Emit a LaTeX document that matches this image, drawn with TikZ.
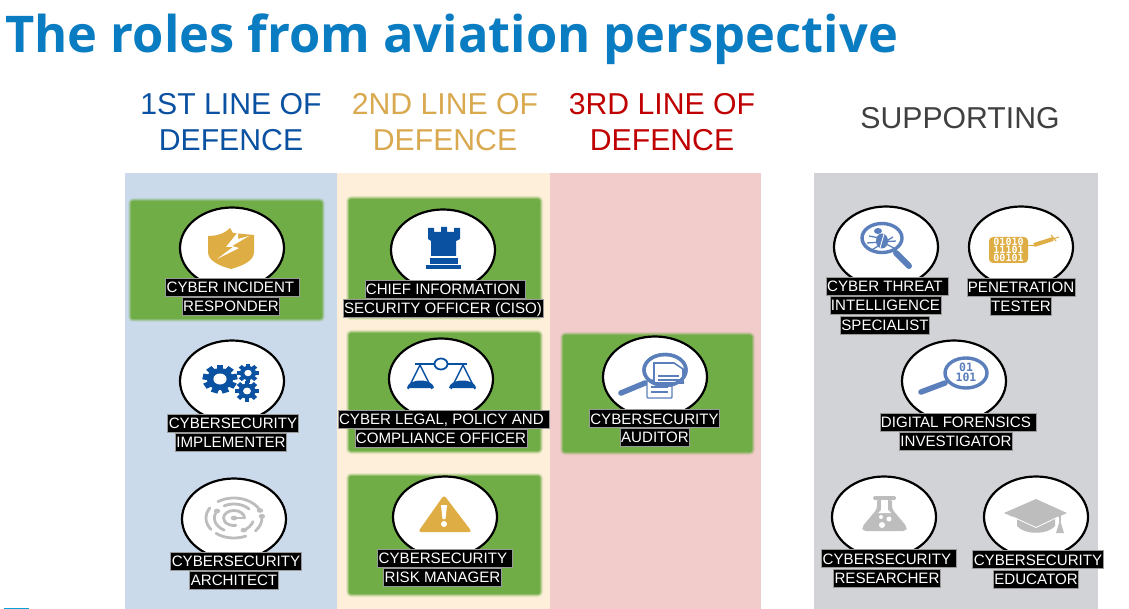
\documentclass[tikz,border=0pt]{standalone}
\usepackage{fontspec}
\setmainfont{Liberation Sans}
\newfontfamily\titlefont{Open Sans}
\newfontfamily\bitfont{DejaVu Sans Mono}
\usetikzlibrary{shapes.geometric}
\definecolor{titleblue}{HTML}{0A7CC1}
\definecolor{navy}{HTML}{0B51A2}
\definecolor{goldc}{HTML}{DEAD43}
\definecolor{headgold}{HTML}{D9A94F}
\definecolor{redc}{HTML}{C00000}
\definecolor{darkc}{HTML}{404040}
\definecolor{steel}{HTML}{5B7FBB}
\definecolor{grayicon}{HTML}{BDBDBD}
\definecolor{greenc}{HTML}{70AD47}
\definecolor{p1}{HTML}{CADAEB}
\definecolor{p2}{HTML}{FDEFD9}
\definecolor{p3}{HTML}{F2CBCB}
\definecolor{p4}{HTML}{D2D3D7}
\tikzset{
 roleoval/.style={ellipse,draw=black,line width=2.2pt,fill=white,minimum width=104pt,minimum height=81pt,inner sep=0pt},
 lbl/.style={fill=black,draw=black!40,line width=.7pt,text=white,inner xsep=1pt,inner ysep=3.6pt,text height=11pt,text depth=0pt,font=\fontsize{15.1}{15}\selectfont},
 head/.style={font=\fontsize{30.2}{30}\selectfont,inner sep=0pt},
 mag/.style={draw=steel,line width=3.4pt,fill=white},
 handle/.style={draw=steel,line width=5.5pt,line cap=round},
 bit/.style={font=\bitfont\bfseries\fontsize{10}{10}\selectfont,inner sep=0pt,text=white},
 digit/.style={font=\bitfont\bfseries\fontsize{11.5}{11}\selectfont,inner sep=0pt,text=steel}
}
\newcommand\greenbox[4]{%
 \fill[greenc,opacity=.15,rounded corners=5pt] (#1-3,#2-3) rectangle (#3+3,#4+3);
 \fill[greenc,opacity=.3,rounded corners=4pt] (#1-2,#2-2) rectangle (#3+2,#4+2);
 \fill[greenc,opacity=.5,rounded corners=3pt] (#1-1,#2-1) rectangle (#3+1,#4+1);
 \fill[greenc,rounded corners=2pt] (#1,#2) rectangle (#3,#4);}
\newcommand\tr{\kern4.2pt}
\newcommand\gearicon[7]{% x y outer inner hole teeth xscale
 \begin{scope}[shift={(#1,#2)},xscale=#7]
 \foreach \a in {1,...,#6}{\fill[navy,rotate=\a*360/#6] (-#3*.2,0) rectangle (#3*.2,-#3);}
 \fill[navy] (0,0) circle (#4);
 \fill[white] (0,0) circle (#5);
 \end{scope}}
\begin{document}
\begin{tikzpicture}[x=1pt,y=-1pt]
\useasboundingbox (0,0) rectangle (1129,609);
\fill[white] (0,0) rectangle (1129,609);
\node[inner sep=0pt,anchor=west,text=titleblue,font=\titlefont\bfseries\fontsize{50.6}{50}\selectfont] (title) at (5,39) {The roles from aviation perspective};
\fill[titleblue!70!cyan] (4,607.5) rectangle (29,609);
% panels
\fill[p1] (125,173) rectangle (337,609);
\fill[p2] (337,173) rectangle (550,609);
\fill[p3] (550,173) rectangle (761,609);
\fill[p4] (814,173) rectangle (1098,609);
% headings
\node[head,text=navy] (h1a) at (231,104) {1ST LINE OF};
\node[head,text=navy] (h1b) at (231,140) {DEFENCE};
\node[head,text=headgold] (h2a) at (445,104) {2ND LINE OF};
\node[head,text=headgold] (h2b) at (445,140) {DEFENCE};
\node[head,text=redc] (h3a) at (662,104) {3RD LINE OF};
\node[head,text=redc] (h3b) at (662,140) {DEFENCE};
\node[head,text=darkc] (h4) at (960,118) {SUPPORTING};
% green
\greenbox{131}{201}{322}{319}
\greenbox{349}{199}{540}{317}
\greenbox{349}{333}{540}{451}
\greenbox{349}{476}{540}{594}
\greenbox{563}{335}{752}{452}
% ovals
\node[roleoval] (o1) at (232,248) {};
\node[roleoval] (o2) at (232,381) {};
\node[roleoval] (o3) at (234,519) {};
\node[roleoval] (o4) at (443,250) {};
\node[roleoval] (o5) at (441,379) {};
\node[roleoval] (o6) at (445,517) {};
\node[roleoval] (o7) at (655,377) {};
\node[roleoval] (o8) at (886,247) {};
\node[roleoval] (o9) at (1021,247) {};
\node[roleoval] (o10) at (954,381) {};
\node[roleoval] (o11) at (884,517) {};
\node[roleoval] (o12) at (1036,517) {};
% shield
\fill[goldc] (208,236) .. controls (216,236) and (224,234) .. (230,228) -- (233,233) -- (254,235) -- (254,252) .. controls (254,261) and (242,266) .. (231,269) .. controls (220,266) and (208,261) .. (208,252) -- cycle;
\fill[white] (238,232) -- (226,247) -- (233,247) -- (217,259) -- (239,248) -- (232,246) -- (249,236) -- (238,239) -- cycle;
% gears
\gearicon{220}{379}{14.5}{11}{5.5}{9}{1.2}
\gearicon{248}{373}{9.5}{7}{3.2}{8}{1.15}
\gearicon{247}{391}{10.5}{7.5}{3.4}{8}{1.15}
% architect
\begin{scope}[shift={(234,518)},xscale=1.4,grayicon,line width=2.8pt,line cap=round]
\draw (-125:20) arc (-125:-22:20);
\draw (-150:20) arc (-150:-215:20);
\draw (130:20) arc (130:65:20);
\draw (40:20) arc (40:-5:20);
\draw (-40:14) arc (-40:-120:14);
\draw (-150:14) arc (-150:-240:14);
\draw (60:14) arc (60:15:14);
\draw (0:7.5) arc (0:-280:7.5);
\draw (0,0) -- (7.5,0);
\fill (0,0) circle (2.4) (-22:20) circle (2.3) (-5:20) circle (2.3) (60:14) circle (2.3) (-150:14) circle (2.3);
\end{scope}
% rook
\fill[navy] (428,228) -- (434,228) -- (434,232) -- (441,232) -- (441,227) -- (447,227) -- (447,232) -- (454,232) -- (454,228) -- (460,228) -- (460,239) -- (456,241) -- (456,256) -- (431,256) -- (431,241) -- (428,239) -- cycle;
\fill[navy] (430,258) rectangle (458,264);
\fill[navy] (426,265) rectangle (461,269);
% scales
\begin{scope}[navy]
\draw[line width=1.8pt] (415,364) -- (467,364);
\draw[line width=1.5pt] (420,365) -- (408,389) (420,365) -- (432,389) (463,365) -- (451,389) (463,365) -- (475,389);
\fill (407,388) arc (180:360:13.5 and 7.5) -- cycle;
\fill (449,388) arc (180:360:13.5 and 7.5) -- cycle;
\draw[line width=1.8pt,fill=white] (441,364) ellipse (6.5 and 5.5);
\end{scope}
% warning
\fill[goldc,rounded corners=3pt] (444,495) -- (472,532) -- (418,532) -- cycle;
\fill[white] (441,505) -- (447,505) -- (445.5,519) -- (442.5,519) -- cycle;
\fill[white] (444,524) circle (3);
% auditor
\draw[handle] (621,393) -- (645,383);
\draw[draw=steel,line width=1.4pt,fill=white,rounded corners=1pt] (647,380) rectangle (672,398);
\draw[steel,line width=1.2pt] (651,387) -- (668,387) (651,392) -- (668,392);
\draw[draw=steel,line width=3.4pt] (665,370) ellipse (21 and 15.5);
\draw[draw=steel,line width=1.6pt,fill=white] (654,363) -- (674,363) -- (683,369) -- (683,383) -- (654,383) -- cycle;
\draw[steel,line width=1.2pt] (658,376) -- (679,376) (658,380) -- (679,380);
\draw[draw=steel,line width=3.4pt] (665,370) ellipse (21 and 15.5);
% threat
\draw[handle,line width=6pt] (896,253) -- (909,266);
\draw[mag] (882,238) ellipse (20 and 14.5);
\begin{scope}[steel]
\fill (882,241) ellipse (6 and 7.5);
\fill (878,231) ellipse (4 and 3);
\draw[line width=1.3pt] (869,236) -- (885,239) (867,243) -- (896,241) (870,251) -- (893,237) (894,248) -- (886,244);
\draw[white,line width=.9pt] (884,234) -- (880,248);
\end{scope}
% penetration
\fill[goldc,rounded corners=4pt] (989,237) rectangle (1028,263);
\node[bit] (b1) at (1008.5,242) {01010};
\node[bit] (b2) at (1008.5,250) {11101};
\node[bit] (b3) at (1008.5,258) {00101};
\draw[goldc,line width=1pt] (1028,246) -- (1034,246);
\draw[goldc,line width=4pt] (1034,245) -- (1053,239);
\draw[goldc,line width=1pt] (1051,235) -- (1056,241) (1053,239) -- (1059,237);
% digital
\draw[handle] (921,392) -- (945,383);
\draw[mag] (966,373) ellipse (21 and 15);
\node[digit] (d1) at (966,367) {01};
\node[digit] (d2) at (966,377.5) {101};
% flask
\fill[grayicon,rounded corners=1.5pt] (873,496) rectangle (896,500);
\fill[grayicon,rounded corners=3pt] (877,499) -- (892,499) -- (892,509) -- (907,527) -- (906,531) -- (863,531) -- (862,527) -- (877,509) -- cycle;
\fill[white] (881,500) rectangle (888,511);
\fill[white] (881,510) -- (888,510) -- (891,513) -- (878,513) -- cycle;
\fill[white] (881,517) circle (2) (889,519) circle (2.5) (882,525) circle (3);
% cap
\fill[grayicon] (1017,518) -- (1055,518) -- (1055,526) .. controls (1048,535) and (1024,535) .. (1017,526) -- cycle;
\fill[grayicon] (1004,513) -- (1036,499) -- (1067,513) -- (1036,527) -- cycle;
\draw[white,line width=.8pt] (1013,517) -- (1036,527.5) -- (1058,517);
\draw[grayicon,line width=1.2pt] (1060,514) -- (1060,522);
\fill[grayicon] (1060,520) -- (1064,533) -- (1056,533) -- cycle;
% labels
\node[lbl] (l1a) at (232.5,287) {CYBER INCIDENT\tr};
\node[lbl] (l1b) at (231,306) {RESPONDER};
\node[lbl] (l2a) at (233,423) {CYBERSECURITY};
\node[lbl] (l2b) at (231,442) {IMPLEMENTER};
\node[lbl] (l3a) at (236,561) {CYBERSECURITY};
\node[lbl] (l3b) at (234,580) {ARCHITECT};
\node[lbl] (l4a) at (445,289) {CHIEF INFORMATION\tr};
\node[lbl] (l4b) at (443,308) {SECURITY OFFICER (CISO)};
\node[lbl] (l5a) at (443.5,419) {CYBER LEGAL, POLICY AND\tr};
\node[lbl] (l5b) at (441,438) {COMPLIANCE OFFICER};
\node[lbl] (l6a) at (445,558) {CYBERSECURITY\tr};
\node[lbl] (l6b) at (442.5,577) {RISK MANAGER};
\node[lbl] (l7a) at (654.5,418.5) {CYBERSECURITY};
\node[lbl] (l7b) at (655,437) {AUDITOR};
\node[lbl] (l8a) at (887,286) {CYBER THREAT\tr};
\node[lbl] (l8b) at (885.5,305) {INTELLIGENCE};
\node[lbl] (l8c) at (885,325) {SPECIALIST};
\node[lbl] (l9a) at (1021,287) {PENETRATION};
\node[lbl] (l9b) at (1021,306) {TESTER};
\node[lbl] (l10a) at (958,422) {DIGITAL FORENSICS\tr};
\node[lbl] (l10b) at (956,441) {INVESTIGATOR};
\node[lbl] (l11a) at (889,558.5) {CYBERSECURITY\tr};
\node[lbl] (l11b) at (887,578) {RESEARCHER};
\node[lbl] (l12a) at (1038,559.5) {CYBERSECURITY};
\node[lbl] (l12b) at (1036,579) {EDUCATOR};
\end{tikzpicture}
\end{document}
